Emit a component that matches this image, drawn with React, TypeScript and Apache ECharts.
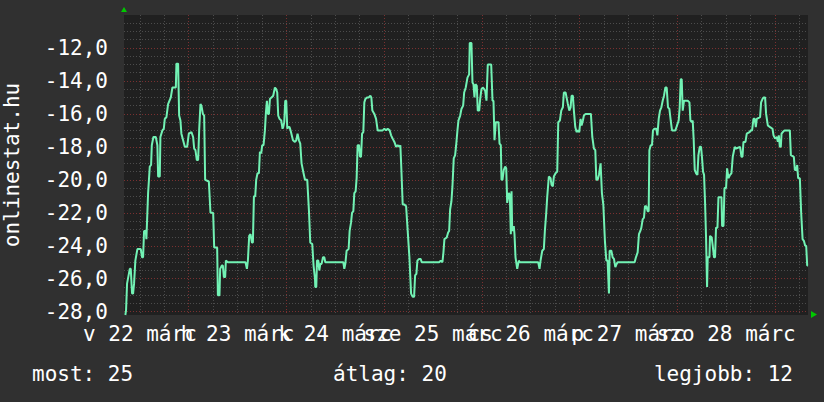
import React, { useEffect, useRef } from "react";
import * as echarts from "echarts";

// time in hours since 22 March 00:00, rank shown as negative value
const hours = [
  8.43, 8.61, 8.85, 9.52, 9.76, 10.08, 10.33, 10.57, 10.89, 11.39, 12.22, 12.54, 12.79, 13.03, 13.45, 13.6, 13.77,
  14.02, 14.43, 14.75, 14.93, 15.32, 15.91, 16.3, 16.48, 16.89, 17.04, 17.53, 17.88, 18.12, 18.52, 18.93, 19.6,
  19.99, 20.83, 20.98, 21.39, 21.64, 21.96, 22.2, 22.62, 23.04, 23.61, 24.02, 24.66, 25.08, 25.33, 25.65, 25.99,
  26.31, 26.56, 26.88, 27.12, 27.47, 27.79, 28.03, 28.94, 29.34, 30.0, 30.25, 30.98,
  31.16, 31.55, 31.72, 32.14, 32.38, 32.63, 32.95, 33.12, 33.61, 37.94, 38.29, 38.53, 38.85, 39.17, 39.52, 39.76,
  40.01, 40.33, 40.57, 40.89, 41.24, 41.48, 41.8, 42.05, 42.37, 42.71, 42.96, 43.2, 43.45, 43.7, 43.94, 44.34,
  44.75, 45.17, 45.49, 45.74, 45.98, 46.3, 46.72, 47.04, 47.21, 47.46, 47.7, 47.95, 48.2, 48.44, 48.76, 49.11,
  49.6, 50.09, 50.41, 50.73, 51.07, 51.39, 51.71, 52.2, 52.55, 53.11, 53.53, 53.85, 54.34, 54.66, 55.01,
  55.08, 55.33, 55.5, 55.82, 56.07, 56.31, 56.63, 56.98, 57.29, 57.54, 61.97, 62.21, 62.46, 62.78, 63.27, 63.52,
  63.86, 64.11, 64.43, 64.67, 64.99, 65.24, 65.48, 65.83, 66.07, 66.32, 66.57, 66.88, 67.13, 67.38, 67.79, 68.19,
  68.61, 68.85, 69.1, 69.59, 70.01, 70.4, 70.89, 71.63, 72.05, 72.47, 72.86, 73.35, 73.7, 74.09, 74.51, 74.93,
  75.32, 75.74, 75.98, 76.23, 76.55, 76.97, 77.39, 77.78, 78.2, 78.61, 79.01,
  79.35, 79.6, 79.92, 80.16, 80.58, 80.98, 81.22, 85.5, 85.89, 86.31, 86.56, 86.8, 87.37, 87.71, 87.96, 88.2,
  88.52, 88.77, 89.09, 89.43, 89.68, 90.0, 90.25, 90.67, 90.98, 91.4, 91.65, 92.04, 92.46, 92.87, 93.02, 93.44,
  93.69, 93.93, 94.18, 94.43, 94.75, 94.99, 95.34, 95.58, 95.9, 96.22, 96.57, 96.81, 97.13, 97.45, 98.04, 98.29,
  98.61, 98.85, 99.1, 99.42, 100.08, 100.33, 100.65, 100.82, 101.06, 101.38, 101.73, 101.98, 102.22, 102.62,
  102.86, 103.11, 103.28, 103.45, 103.84, 104.01, 104.26, 104.68, 105.07, 105.32, 109.84, 110.16, 110.41, 110.83,
  111.22, 111.47, 111.81, 112.06, 112.45, 112.87, 113.11, 113.43, 113.68, 114.1, 114.51, 114.76, 115.16, 115.5,
  115.89, 116.14, 116.56, 116.8, 117.12, 117.47, 117.79, 118.03, 118.35, 118.6, 118.94, 119.26, 119.58, 119.92,
  120.24, 120.49, 120.81, 121.06, 121.48, 122.78, 123.12, 123.52, 123.86, 124.11, 124.43, 124.75, 125.16, 125.48,
  125.83, 126.22, 126.57, 126.88, 127.21,
  127.38, 127.8, 128.11, 128.44, 128.78, 129.1, 129.34, 133.52, 133.84, 134.26, 134.58, 134.92, 135.17, 135.49,
  135.81, 136.06, 136.4, 136.72, 136.97, 137.14, 137.46, 137.78, 138.03, 138.37, 138.86, 139.11, 139.43, 139.75,
  140.09, 140.41, 140.73, 141.07, 141.39, 141.71, 142.05, 142.38, 142.7, 143.53, 143.93, 144.34, 144.59, 144.84,
  145.08, 145.33, 145.65, 146.56, 146.98, 147.22, 147.54, 147.78, 148.03, 148.28, 148.6, 148.94, 149.19, 149.51,
  149.83, 150.08, 150.32, 150.57, 150.82, 151.06, 151.31,
  151.47, 151.89, 152.04, 152.45, 152.7, 153.02, 153.27, 153.51, 153.86, 154.11, 154.85, 155.0, 155.34, 155.59,
  155.98, 156.23, 156.57, 156.96, 157.3, 157.62, 158.11, 158.43, 159.42, 159.76, 160.01, 160.25, 160.74, 161.06,
  161.73, 162.05, 162.37, 162.71, 163.03, 163.28, 163.52, 164.33, 164.58, 164.92, 165.17, 165.56, 165.81, 166.23,
  166.79, 167.38, 167.63, 168.02, 168.44, 168.69, 168.93, 169.18, 169.42, 169.6, 169.92, 170.34, 171.39, 171.64,
  171.89, 172.62, 172.87, 173.19, 173.44, 173.68, 174.1, 174.42, 174.77, 175.09, 175.41, 175.66, 175.9, 176.08,
];

const ranks = [
  -28.2, -27.9, -26.3, -25.4, -25.4, -26.9, -26.9, -26.3, -24.9, -24.2, -24.2, -24.7, -24.7, -23.1, -23.1, -23.6, -23.6,
  -20.8, -19.2, -19.1, -17.9, -17.4, -17.4, -17.9, -19.8, -19.8, -17.4, -17.0, -16.9, -16.3, -16.2, -15.4, -15.0,
  -14.4, -14.4, -12.95, -12.95, -16.1, -16.4, -17.2, -17.6, -18.0, -18.0, -17.2, -17.1, -17.4, -18.1, -18.2, -18.8,
  -18.8, -17.0, -15.4, -15.5, -16.0, -16.1, -20.0, -20.1, -22.0, -22.0, -24.1, -24.1,
  -27.0, -27.0, -25.4, -25.2, -25.2, -25.9, -25.9, -24.9, -25.0, -25.0, -25.4, -24.9, -23.4, -23.3, -23.8, -23.8,
  -21.0, -21.0, -20.0, -19.6, -19.6, -18.3, -18.4, -17.9, -17.9, -17.0, -15.9, -15.2, -16.0, -16.0, -15.1, -15.0,
  -14.9, -14.4, -14.5, -14.7, -16.1, -16.3, -16.4, -16.9, -16.8, -16.5, -15.2, -15.2, -16.9, -16.8, -16.8, -17.1,
  -17.6, -17.7, -17.6, -17.2, -17.6, -17.8, -19.0, -19.6, -20.0, -20.0, -21.9, -23.8, -23.9, -25.2, -26.0,
  -26.5, -26.5, -24.9, -24.9, -25.5, -25.1, -25.1, -24.7, -24.7, -25.0, -25.0, -25.4, -25.1, -24.3, -24.2, -23.1,
  -22.6, -22.0, -21.9, -20.8, -20.7, -19.9, -17.9, -17.9, -18.6, -18.6, -17.2, -17.1, -15.3, -15.1, -15.0, -15.0,
  -14.9, -15.0, -15.8, -16.0, -16.3, -17.0, -17.0, -17.0, -16.9, -17.0, -16.9, -17.0, -17.3, -17.5, -17.7, -18.0,
  -17.9, -18.0, -17.9, -19.4, -21.5, -21.5, -21.6, -23.1, -24.7, -26.9, -27.1,
  -27.1, -25.8, -25.7, -24.9, -24.8, -24.8, -25.0, -25.0, -24.9, -25.0, -24.4, -23.6, -23.5, -23.2, -23.1, -21.8,
  -21.3, -20.4, -18.7, -18.5, -17.9, -17.0, -16.4, -16.1, -15.7, -15.5, -14.7, -14.4, -13.8, -13.6, -11.7, -11.7,
  -14.1, -14.2, -15.0, -14.2, -14.3, -15.8, -15.8, -15.1, -14.5, -14.4, -14.5, -14.6, -15.2, -13.0, -13.0, -13.0,
  -15.2, -15.2, -17.6, -16.5, -16.5, -17.8, -17.9, -20.0, -20.0, -19.4, -19.2, -19.3, -21.4, -20.8,
  -20.9, -23.3, -20.7, -23.1, -22.8, -23.3, -24.7, -25.4, -24.9, -25.0, -25.0, -25.4, -24.9, -24.3,
  -24.2, -23.1, -22.0, -21.0, -19.8, -19.9, -20.3, -20.4, -19.8, -19.6, -19.5, -16.5, -16.4, -15.8,
  -15.6, -14.7, -14.7, -15.0, -15.4, -15.8, -15.6, -14.9, -14.9, -15.8, -16.8, -17.1, -17.0, -17.1,
  -16.3, -16.7, -16.4, -16.1, -16.0, -16.0, -17.4, -18.1, -18.2, -20.0, -20.0, -19.7, -19.0, -20.8,
  -21.5, -23.7, -24.9, -24.9, -26.9,
  -24.3, -24.3, -24.7, -24.8, -25.3, -25.1, -25.0, -25.0, -24.7, -24.4, -23.3, -23.1, -22.9, -22.4,
  -22.3, -21.6, -21.6, -21.9, -21.9, -18.2, -17.9, -17.9, -17.0, -16.9, -16.9, -17.3, -16.3, -15.8,
  -15.6, -15.2, -14.9, -14.4, -14.4, -15.6, -15.7, -16.4, -17.0, -17.0, -16.7, -16.4, -15.6, -13.9,
  -13.9, -15.8, -15.2, -15.2, -15.3, -16.4, -16.5, -16.4, -17.6, -19.4, -19.6, -19.7, -18.5, -18.0,
  -18.0, -18.7, -19.5, -19.7, -21.4, -23.5, -26.5,
  -24.7, -24.7, -23.4, -23.5, -24.0, -24.7, -24.7, -22.9, -22.9, -21.05, -21.05, -22.8, -22.8, -20.5,
  -20.5, -19.3, -19.9, -19.7, -19.6, -18.6, -18.0, -18.1, -18.0, -18.6, -18.6, -17.7, -17.7, -17.2,
  -17.1, -17.0, -17.0, -16.3, -16.3, -16.8, -16.3, -16.2, -15.3, -15.1, -15.0, -15.0, -16.0, -16.7,
  -16.8, -16.9, -17.3, -17.5, -17.4, -17.7, -17.3, -18.0, -18.0, -17.2, -17.1, -17.0, -17.0, -17.0,
  -18.5, -18.6, -19.4, -19.4, -19.1, -19.9, -19.9, -22.0, -23.6, -23.7, -24.0, -24.0, -25.2, -25.2,
];

const X_MIN = 8.1;
const X_MAX = 176.1;
const Y_MIN = -28.2;
const Y_MAX = -10;

const minorHourLines = [12, 18, 30, 36, 42, 54, 60, 66, 78, 84, 90, 102, 108, 114, 126, 132, 138, 150, 156, 162, 174];
const dayLines = [24, 48, 72, 96, 120, 144, 168];
const labelHours = [12, 36, 60, 84, 108, 132, 156];
const dayLabels = ["v 22 márc", "h 23 márc", "k 24 márc", "sze 25 márc", "cs 26 márc", "p 27 márc", "szo 28 márc"];

const minorRankLines = [
  -27.5, -27, -26.5, -25.5, -25, -24.5, -23.5, -23, -22.5, -21.5, -21, -20.5, -19.5, -19, -18.5,
  -17.5, -17, -16.5, -15.5, -15, -14.5, -13.5, -13, -12.5, -11.5, -11, -10.5,
];
const majorRankLines = [-28, -26, -24, -22, -20, -18, -16, -14, -12];

const yTitle = "onlinestat.hu";
const legendTexts = ["most: 25", "átlag: 20", "legjobb: 12"];

const FONT = "'DejaVu Sans Mono', monospace";
const GRAY = "#4c4c4c";
const RED = "#7a3030";
const LINE = "#72f2b4";

export default function App() {
  const ref = useRef<HTMLDivElement>(null);
  useEffect(() => {
    if (!ref.current) return;
    const chart = echarts.init(ref.current, null, { renderer: "svg" });
    const data = hours.map((h, i) => [h, ranks[i]]);
    // labels alternate between two axes so the library does not drop overlapping ones
    const evenLabels = labelHours.filter((_, i) => i % 2 === 0);
    const oddLabels = labelHours.filter((_, i) => i % 2 === 1);
    const labelStyle = {
      formatter: (v: number) => dayLabels[labelHours.indexOf(v)] ?? "",
      color: "#ffffff", fontFamily: FONT, fontSize: 21, margin: 8,
      hideOverlap: false, showMinLabel: true, showMaxLabel: true,
    };
    const baseX = { type: "value", min: X_MIN, max: X_MAX, gridIndex: 0, position: "bottom", axisLine: { show: false } };
    const baseY = { type: "value", min: Y_MIN, max: Y_MAX, gridIndex: 0, position: "left", axisLine: { show: false } };
    chart.setOption({
      animation: false,
      backgroundColor: "#303030",
      grid: {
        left: 124, top: 15, width: 684, height: 300,
        show: true, backgroundColor: "#202020", borderWidth: 0,
        outerBoundsMode: "none", containLabel: false,
      },
      xAxis: [
        {
          ...baseX,
          axisTick: { show: false, customValues: minorHourLines },
          splitLine: { show: true, lineStyle: { color: GRAY, width: 1, type: [1, 2] } },
          axisLabel: { ...labelStyle, customValues: evenLabels },
        },
        {
          ...baseX,
          axisTick: { show: false, customValues: dayLines },
          splitLine: { show: true, lineStyle: { color: RED, width: 1, type: [1, 2] } },
          axisLabel: { ...labelStyle, customValues: oddLabels },
        },
      ],
      yAxis: [
        {
          ...baseY,
          axisTick: { show: false, customValues: minorRankLines },
          splitLine: { show: true, lineStyle: { color: GRAY, width: 1, type: [1, 2] } },
          axisLabel: {
            customValues: majorRankLines,
            formatter: (v: number) => v.toFixed(1).replace(".", ","),
            color: "#ffffff", fontFamily: FONT, fontSize: 21, margin: 16,
            showMinLabel: true, showMaxLabel: true,
          },
          name: yTitle,
          nameLocation: "middle",
          nameRotate: 90,
          nameGap: 102,
          nameTextStyle: { color: "#ffffff", fontFamily: FONT, fontSize: 21, lineHeight: 21, padding: [0, 0, 0, 0] },
        },
        {
          ...baseY,
          axisTick: { show: false, customValues: majorRankLines },
          splitLine: { show: true, lineStyle: { color: RED, width: 1, type: [1, 2] } },
          axisLabel: { show: false },
        },
      ],
      series: [
        {
          type: "line",
          xAxisIndex: 0,
          yAxisIndex: 0,
          data,
          showSymbol: false,
          symbol: "none",
          lineStyle: { color: LINE, width: 2 },
          z: 5,
        },
      ],
      graphic: [
        { type: "polygon", shape: { points: [[121, 12], [127, 12], [124, 7]] }, style: { fill: "#00c800" } },
        { type: "polygon", shape: { points: [[811, 311], [811, 318], [817, 314.5]] }, style: { fill: "#00c800" } },
        { type: "text", x: 32, y: 374, style: { text: legendTexts[0], font: `21px ${FONT}`, fill: "#ffffff", textVerticalAlign: "middle" } },
        { type: "text", x: 333, y: 374, style: { text: legendTexts[1], font: `21px ${FONT}`, fill: "#ffffff", textVerticalAlign: "middle" } },
        { type: "text", x: 793, y: 374, style: { text: legendTexts[2], font: `21px ${FONT}`, fill: "#ffffff", textAlign: "right", textVerticalAlign: "middle" } },
      ],
    });
    return () => chart.dispose();
  }, []);
  return <div ref={ref} style={{ position: "fixed", left: 0, top: 0, width: 824, height: 402 }} />;
}
